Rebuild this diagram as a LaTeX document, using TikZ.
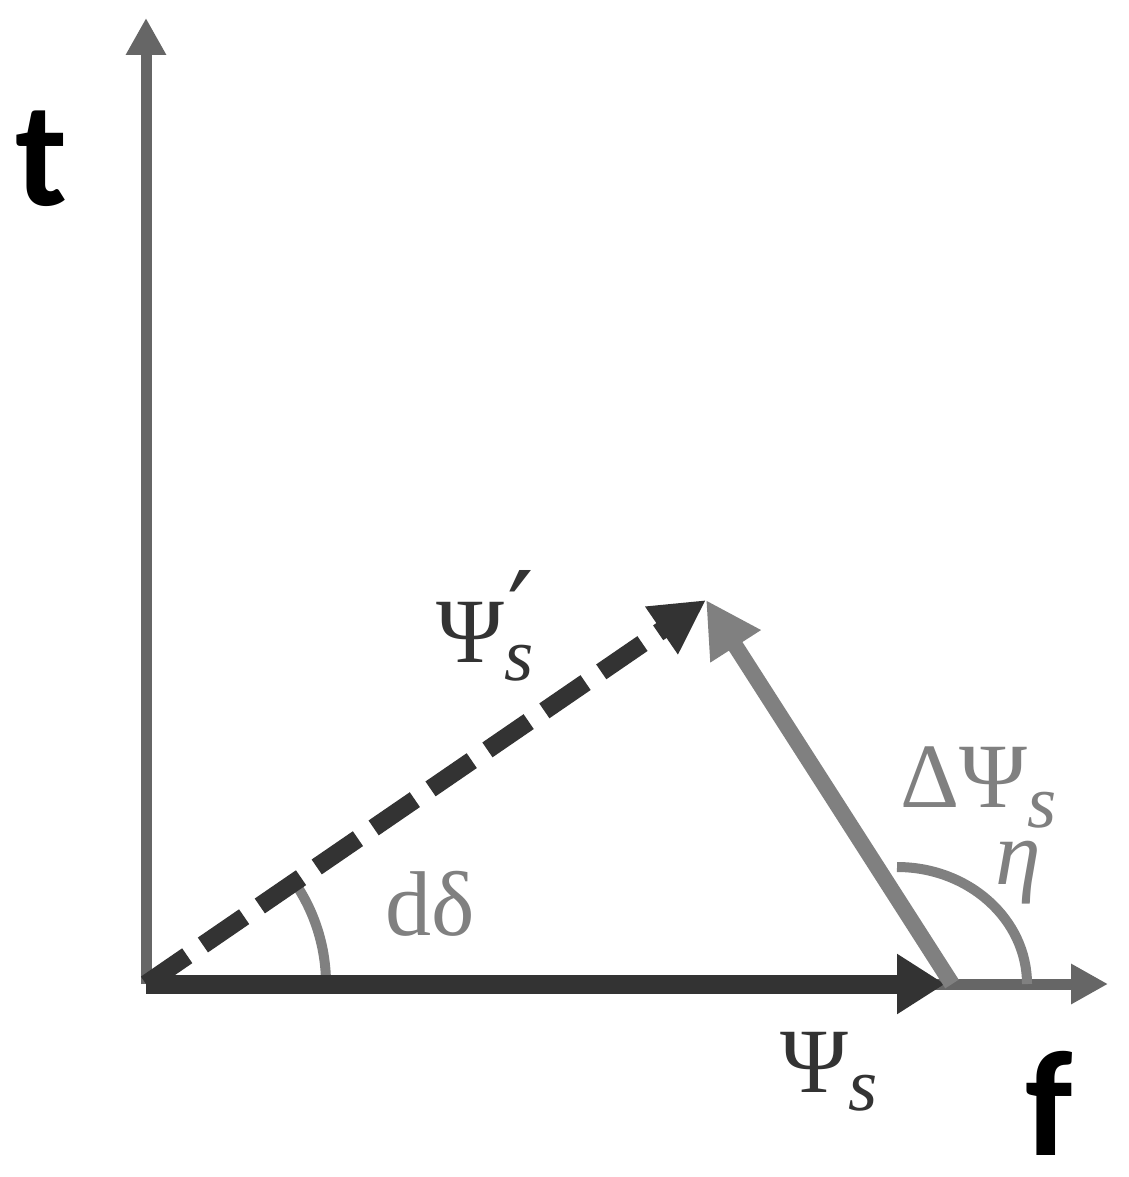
\documentclass[tikz,border=0pt]{standalone}
\usepackage{fontspec}
\usetikzlibrary{arrows.meta}
\newfontfamily\lserif{Liberation Serif}
\newfontfamily\csans{Carlito}
\newfontfamily\dvsans{DejaVu Sans}
\definecolor{axisgray}{HTML}{666666}
\definecolor{darkvec}{HTML}{333333}
\definecolor{lightvec}{HTML}{808080}
\newcommand\lowsub[2]{\raisebox{-#1pt}{\fontsize{75}{75}\selectfont\itshape #2}}
\begin{document}
\begin{tikzpicture}[x=1pt,y=-1pt,
  axisline/.style={draw=axisgray,line width=11pt,-{Triangle[length=37pt,width=38pt]}},
  mainvec/.style={draw=darkvec,line width=19pt,-{Triangle[length=48pt,width=57pt]}},
  deltavec/.style={draw=lightvec,line width=16pt,-{Triangle[length=55pt,width=56pt]}},
  primevec/.style={draw=darkvec,line width=18pt,dash pattern=on 50pt off 19pt,-{Triangle[length=54pt,width=54pt]}},
  anglearc/.style={draw=lightvec,line width=10pt},
  axislabel/.style={anchor=base west,inner sep=0pt,font=\csans\bfseries\fontsize{150}{150}\selectfont},
  mathlabel/.style={anchor=base west,inner sep=0pt,font=\lserif\fontsize{92}{92}\selectfont}]
\path[use as bounding box] (0,0) rectangle (1128,1177);
% points
\coordinate (O) at (146,984);
\coordinate (ttip) at (146,18);
\coordinate (ftip) at (1108,984);
\coordinate (S) at (945,984);
\coordinate (D0) at (952,984);
\coordinate (P) at (706,600);
% axes
\draw[axisline] (O) -- (ttip);
\draw[axisline] (O) -- (ftip);
% angle arcs
\draw[anglearc] (326,984) arc[start angle=0,end angle=-34.6,radius=180];
\draw[anglearc] (1027,984) arc[start angle=0,end angle=-90,x radius=130,y radius=117];
% vectors
\draw[mainvec] (O) -- (S);
\draw[deltavec] (D0) -- (P);
\draw[primevec] (O) -- (P);
% labels
\node[axislabel] (tlab) at (15,205) {t};
\node[axislabel] (flab) at (1025,1155) {f};
\node[mathlabel,text=darkvec] (psis) at (780,1092) {Ψ\lowsub{18}{s}};
\node[mathlabel,text=darkvec] (psisp) at (436,662) {Ψ\rlap{\hspace{3pt}\raisebox{6pt}{\dvsans\fontsize{118}{118}\selectfont ′}}\lowsub{18}{s}};
\node[mathlabel,text=lightvec] (dpsis) at (900,807) {ΔΨ\lowsub{20}{s}};
\node[mathlabel,text=lightvec] (eta) at (995,884) {\itshape η};
\node[mathlabel,text=lightvec] (ddelta) at (385,935) {dδ};
\end{tikzpicture}
\end{document}
